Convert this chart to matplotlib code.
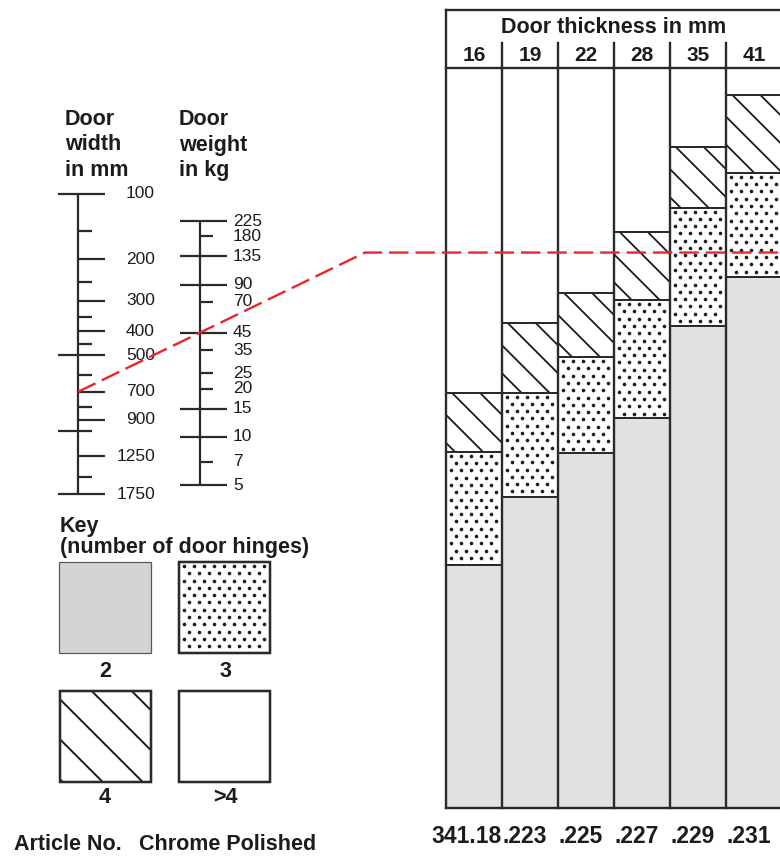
import numpy as np
import matplotlib
matplotlib.use("Agg")
import matplotlib.pyplot as plt
from matplotlib.patches import Rectangle
from matplotlib.lines import Line2D
from matplotlib.collections import LineCollection
import matplotlib.transforms as mtransforms

plt.rcParams['font.family'] = ['Liberation Sans', 'DejaVu Sans']
plt.rcParams['lines.scale_dashes'] = False

# ---------------- data ----------------
thickness_mm = ["16", "19", "22", "28", "35", "41"]
# upper limits of each hinge-count band (share of chart height, %)
top_2_hinges = [32.8, 42.0, 48.0, 52.7, 65.1, 71.8]
top_3_hinges = [48.1, 56.1, 60.9, 68.6, 81.1, 85.8]
top_4_hinges = [56.1, 65.5, 69.6, 77.8, 89.3, 96.4]
article_prefix = "341.18"
article_suffix = [".223", ".225", ".227", ".229", ".231"]

width_labeled = [100, 200, 300, 400, 500, 700, 900, 1250, 1750]
width_minor = [150, 250, 350, 450, 600, 800, 1000, 1500]
width_long = [100, 500, 1000, 1750]

weight_labeled = [225, 180, 135, 90, 70, 45, 35, 25, 20, 15, 10, 7, 5]
weight_long = [225, 135, 90, 45, 15, 10, 5]

example_width = 700
example_weight = 45

key_labels = ["2", "3", "4", ">4"]

# ---------------- style ----------------
INK = "#1e1b1c"
LINE = "#2a2a2a"
RED = "#e8262d"
BAR_GRAY = "#e1e2e4"
KEY_GRAY = "#d3d4d4"
W, H = 780, 858

fig = plt.figure(figsize=(W / 100, H / 100), dpi=100)
bg = fig.add_axes([0, 0, 1, 1])
bg.set_xlim(0, W)
bg.set_ylim(H, 0)
bg.axis('off')


def px_axes(x0, y0, x1, y1):
    ax = fig.add_axes([x0 / W, 1 - y1 / H, (x1 - x0) / W, (y1 - y0) / H])
    ax.axis('off')
    return ax


def to_px(ax, x, y):
    return bg.transData.inverted().transform(ax.transData.transform((x, y)))


def extent_px(patch):
    bb = patch.get_window_extent()
    inv = bg.transData.inverted()
    (xa, ya), (xb, yb) = inv.transform([[bb.x0, bb.y0], [bb.x1, bb.y1]])
    return min(xa, xb), min(ya, yb), max(xa, xb), max(ya, yb)


def add_dots(ax, patch, dx=10.0, dy=7.3, ox=4.7, oy=3.7, ms=2.6):
    x0, y0, x1, y1 = extent_px(patch)
    xs, ys = [], []
    k = 0
    y = y0 + oy
    while y < y1 - 2.0:
        x = x0 + ox + (dx / 2 if k % 2 else 0)
        while x < x1 - 2.0:
            xs.append(x)
            ys.append(y)
            x += dx
        y += dy
        k += 1
    ln = Line2D(xs, ys, ls='none', marker='o', ms=ms, mfc=INK, mec='none',
                transform=bg.transData, zorder=2)
    ax.add_artist(ln)
    ln.set_clip_path(patch)


def add_hatch(ax, patch, spacing=28.0, offset=6.0, lw=1.3):
    x0, y0, x1, y1 = extent_px(patch)
    segs = []
    c = x0 - y0 + offset
    while c > x0 - y1:
        c -= spacing
    while c < x1 - y0:
        segs.append([(c + y0 - 3, y0 - 3), (c + y1 + 3, y1 + 3)])
        c += spacing
    lc = LineCollection(segs, colors=INK, linewidths=lw,
                        transform=bg.transData, zorder=2)
    ax.add_collection(lc, autolim=False)
    lc.set_clip_path(patch)


# ---------------- right panel: stacked bars ----------------
n = len(thickness_mm)
axr = px_axes(446, 68, 782, 808)
axr.set_xlim(0, n)
axr.set_ylim(0, 100)
xpos = np.arange(n)
zeros = np.zeros(n)
full = np.full(n, 100.0)
layers = [
    (zeros, np.array(top_2_hinges), BAR_GRAY, None),
    (np.array(top_2_hinges), np.array(top_3_hinges), "white", "dots"),
    (np.array(top_3_hinges), np.array(top_4_hinges), "white", "hatch"),
    (np.array(top_4_hinges), full, "white", None),
]
for lo, hi, fc, pat in layers:
    bars = axr.bar(xpos, hi - lo, bottom=lo, width=1, align='edge',
                   color=fc, linewidth=0, zorder=1)
    for p in bars:
        if pat == "dots":
            add_dots(axr, p)
        elif pat == "hatch":
            add_hatch(axr, p)
    axr.bar(xpos, hi - lo, bottom=lo, width=1, align='edge', fill=False,
            edgecolor=LINE, linewidth=1.4, zorder=3)

T = mtransforms.blended_transform_factory(axr.transData, bg.transData)
lkw = dict(transform=T, clip_on=False, color=LINE, lw=1.7,
           solid_capstyle='projecting', zorder=4)
axr.plot([0, 0], [10, 808], **lkw)
axr.plot([0, n + 0.2], [10, 10], **lkw)
axr.plot([0, n + 0.2], [68, 68], **lkw)
axr.plot([0, n + 0.2], [808, 808], **lkw)
for i in range(1, n + 1):
    axr.plot([i, i], [43, 808], **lkw)

for i, lab in enumerate(thickness_mm):
    axr.text(i + 0.5, 60.7, lab, transform=T, ha='center', va='baseline',
             fontsize=15, fontweight='bold', color=INK)
axr.text(n / 2, 33.3, "Door thickness in mm", transform=T, ha='center',
         va='baseline', fontsize=15.5, fontweight='bold', color=INK)

axr.text(1, 843, article_prefix, transform=T, ha='right', va='baseline',
         fontsize=16.5, fontweight='bold', color=INK, clip_on=False)
for i, s in enumerate(article_suffix):
    axr.text(i + 1, 843, s, transform=T, ha='left', va='baseline',
             fontsize=16.5, fontweight='bold', color=INK, clip_on=False)

# ---------------- nomogram: door width ----------------
axw = px_axes(40, 194, 170, 494)
axw.set_xlim(40, 170)
axw.set_yscale('function', functions=(lambda v: np.log10(np.asarray(v) + 30.0),
                                      lambda u: 10 ** np.asarray(u) - 30.0))
axw.set_ylim(max(width_labeled), min(width_labeled))
tkw = dict(color=LINE, lw=1.6, solid_capstyle='butt', clip_on=False)
axw.plot([78, 78], [min(width_labeled), max(width_labeled)], **tkw)
for v in sorted(width_labeled + width_minor):
    left = 58 if v in width_long else 78
    right = 105 if v in width_labeled else 92
    axw.plot([left, right], [v, v], **tkw)
    if v in width_labeled:
        axw.text(155, v, str(v), ha='right', va='center', fontsize=12.5,
                 color=INK, clip_on=False)

# ---------------- nomogram: door weight ----------------
axg = px_axes(170, 221, 300, 485)
axg.set_xlim(170, 300)
axg.set_yscale('log')
axg.set_ylim(min(weight_labeled), max(weight_labeled))
axg.plot([200, 200], [min(weight_labeled), max(weight_labeled)], **tkw)
for v in weight_labeled:
    if v in weight_long:
        axg.plot([180, 227], [v, v], **tkw)
    else:
        axg.plot([200, 213], [v, v], **tkw)
    axg.text(233, v, str(v), ha='left', va='center', fontsize=12.5,
             color=INK, clip_on=False)

# titles of the scales
tt = dict(fontsize=15.5, fontweight='bold', color=INK, va='baseline', ha='left')
for yb, (a, b) in zip([125, 150.5, 176], [("Door", "Door"), ("width", "weight"),
                                          ("in mm", "in kg")]):
    bg.text(65, yb, a, **tt)
    bg.text(179, yb, b, **tt)

# ---------------- red example line ----------------
p1 = to_px(axw, 78, example_width)
p2 = to_px(axg, 200, example_weight)
slope = (p2[1] - p1[1]) / (p2[0] - p1[0])
kx = 365
ky = p2[1] + slope * (kx - p2[0])
red = Line2D([p1[0], kx, W + 10], [p1[1], ky, ky], color=RED, lw=1.7,
             dashes=(14, 5), transform=bg.transData, zorder=10)
fig.add_artist(red)

# ---------------- key ----------------
bg.text(60, 532, "Key", **tt)
bg.text(60, 553, "(number of door hinges)", **tt)

sq_gray = Rectangle((59, 562), 92, 91, facecolor=KEY_GRAY, edgecolor="#58595b", lw=0.9)
sq_dots = Rectangle((179, 562), 91, 91, facecolor="white", edgecolor=LINE, lw=1.6)
sq_hatch = Rectangle((60, 691), 91, 91, facecolor="white", edgecolor=LINE, lw=1.6)
sq_white = Rectangle((179, 691), 91, 91, facecolor="white", edgecolor=LINE, lw=1.6)
for sq in (sq_gray, sq_dots, sq_hatch, sq_white):
    bg.add_patch(sq)
    sq.set_zorder(1)
add_dots(bg, sq_dots, ox=5.0, oy=4.0)
add_hatch(bg, sq_hatch, spacing=40.0, offset=31.7, lw=1.4)
for sq in (sq_dots, sq_hatch, sq_white):
    r = Rectangle(sq.get_xy(), sq.get_width(), sq.get_height(), fill=False,
                  edgecolor=LINE, lw=1.7, zorder=3)
    bg.add_patch(r)

lab_pos = [(105, 677), (225, 677), (105, 803), (225, 803)]
for (x, y), lab in zip(lab_pos, key_labels):
    bg.text(x, y, lab, ha='center', va='baseline', fontsize=15.5,
            fontweight='bold', color=INK)

bg.text(14, 850, "Article No.", **tt)
bg.text(139, 850, "Chrome Polished", **tt)

fig.savefig("out.png", dpi=100)
